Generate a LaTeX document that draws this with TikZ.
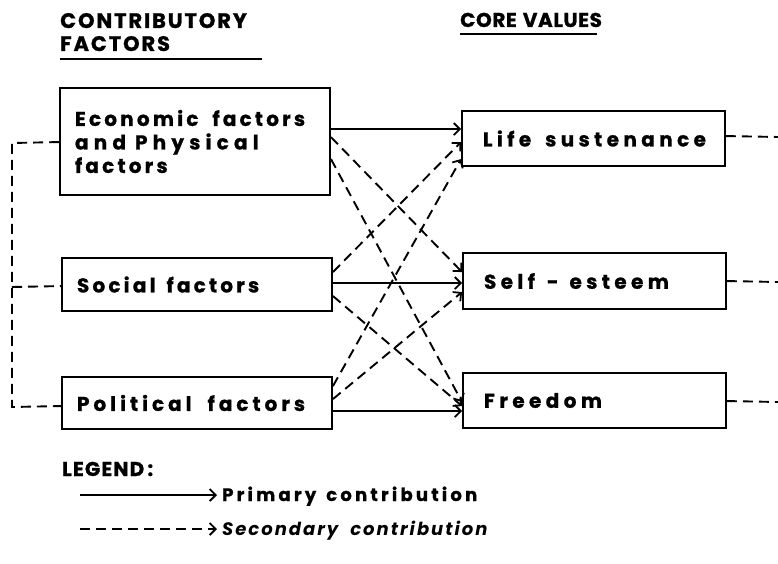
\documentclass[tikz,border=0pt]{standalone}
\usepackage{fontspec}
\setmainfont{Poppins}[LetterSpace=16,BoldFeatures={FakeBold=1}]
\usetikzlibrary{arrows.meta,calc}
\newcommand\wg[1]{\hspace{#1pt}}
\newcommand\ls[1]{\addfontfeatures{LetterSpace=#1}}
\begin{document}
\begin{tikzpicture}[x=1pt,y=-1pt,
  box/.style={draw,line width=1.9pt,minimum height=#1,inner ysep=0pt,align=left,font=\bfseries\fontsize{20}{23.5}\selectfont},
  lbox/.style={box=#1,inner xsep=15pt,text width=240pt},
  rbox/.style={box=#1,inner xsep=21pt,text width=221pt,font=\bfseries\fontsize{20}{23.5}\selectfont\ls{22}},
  head/.style={font=\bfseries\fontsize{21}{23}\selectfont\ls{9},anchor=base west,inner sep=0pt,align=left},
  tip/.style={-{Straight Barb[length=6pt,width=12pt,line width=1.8pt]}},
  prim/.style={line width=1.9pt,tip},
  sec/.style={line width=1.9pt,dash pattern=on 10pt off 6pt,tip},
  link/.style={line width=1.9pt,dash pattern=on 10pt off 6pt},
  uline/.style={line width=1.6pt},
  legtext/.style={font=\bfseries\fontsize{18}{20}\selectfont\ls{18},anchor=base west,inner sep=0pt}
]
\useasboundingbox (0,0) rectangle (778,564);

% headers
\node[head] (h1) at (60,28) {CONTRIBUTORY};
\node[head] (h2) at (60,51) {FACTORS};
\node[head,font=\bfseries\fontsize{20}{23}\selectfont\ls{3}] (h3) at (460,27) {CORE\wg{6}VALUES};
\coordinate (u1a) at (60,59); \coordinate (u1b) at (262,59);
\coordinate (u2a) at (460,34); \coordinate (u2b) at (597,34);
\draw[uline] (u1a) -- (u1b);
\draw[uline] (u2a) -- (u2b);

% left boxes
\node[lbox=107pt] (econ) at (195,141.5) {\mbox{Economic\wg{14}factors}\\\mbox{\ls{26}and\wg{9}Physical}\\\mbox{factors}};
\node[lbox=53pt] (soc) at (197,284.5) {\mbox{Social\wg{11}factors}};
\node[lbox=52pt] (pol) at (197,403) {\mbox{\ls{20}Political\wg{16}factors}};

% right boxes
\node[rbox=55pt] (life) at (593.5,138.5) {\mbox{Life\wg{14}sustenance}};
\node[rbox=56pt] (self) at (594.5,281) {\mbox{Self\wg{12}-\wg{11}esteem}};
\node[rbox=55pt] (free) at (594.5,400.5) {\mbox{Freedom}};

% primary contributions
\draw[prim] ($(econ.north east)+(0,42)$) -- ($(life.north west)+(0,19)$);
\draw[prim] ($(soc.north east)+(0,26)$) -- ($(self.north west)+(0,31)$);
\draw[prim] ($(pol.north east)+(0,35)$) -- ($(free.north west)+(0,39)$);

% secondary contributions
\draw[sec] ($(econ.north east)+(0,50)$) -- ($(self.north west)+(0,20)$);
\draw[sec] ($(econ.north east)+(0,72)$) -- ($(free.north west)+(0,30)$);
\draw[sec] ($(soc.north east)+(0,15)$) -- ($(life.north west)+(0,32)$);
\draw[sec] ($(soc.north east)+(0,39)$) -- ($(free.north west)+(0,34)$);
\draw[sec] ($(pol.north east)+(0,10)$) -- ($(life.north west)+(0,49)$);
\draw[sec] ($(pol.north east)+(0,23)$) -- ($(self.north west)+(0,40)$);

% left dashed bracket
\coordinate (bt) at (12,143);
\coordinate (bm) at (12,287);
\coordinate (bb) at (12,407);
\draw[link] ($(econ.north west)+(0,55)$) -- (bt) -- (bb) -- ($(pol.north west)+(0,30)$);
\draw[link] (bm) -- ($(soc.north west)+(0,29)$);

% right dashed stubs
\coordinate (r1) at (778,137);
\coordinate (r2) at (778,282);
\coordinate (r3) at (778,402);
\draw[link] ($(life.north east)+(0,26)$) -- (r1);
\draw[link] ($(self.north east)+(0,29)$) -- (r2);
\draw[link] ($(free.north east)+(0,29)$) -- (r3);

% legend
\node[head,font=\bfseries\fontsize{20}{22}\selectfont\ls{6}] (leg) at (62,476) {LEGEND\,:};
\coordinate (l1a) at (80,495); \coordinate (l1b) at (217,495);
\coordinate (l2a) at (80,529); \coordinate (l2b) at (217,529);
\draw[prim] (l1a) -- (l1b);
\draw[sec] (l2a) -- (l2b);
\node[legtext] (lt1) at (222,501) {Primary\wg{10}contribution};
\node[legtext,font=\bfseries\itshape\fontsize{18}{20}\selectfont\ls{11}] (lt2) at (222,535) {Secondary\wg{12}contribution};
\end{tikzpicture}
\end{document}
